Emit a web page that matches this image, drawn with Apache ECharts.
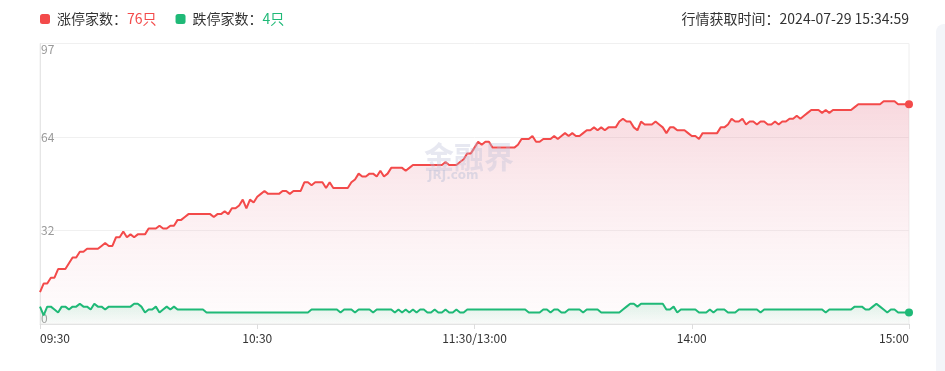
<!DOCTYPE html>
<html>
<head>
<meta charset="utf-8">
<script src="https://cdn.jsdelivr.net/npm/echarts@6/dist/echarts.min.js"></script>
<style>
html,body{margin:0;padding:0;background:#fff;}
#chart{width:945px;height:371px;}
</style>
</head>
<body>
<div id="chart"></div>
<script>
// 涨停家数 (limit-up count) per minute, 09:30 .. 11:30, 13:01 .. 15:00
const riseCounts = [
  11,14,14,16,16,19,19,19,21,23,
  23,25,25,26,26,26,26,27,28,27,
  27,30,30,32,30,31,30,31,31,31,
  33,33,33,34,33,33,34,34,36,36,
  37,38,38,38,38,38,38,38,37,38,
  38,39,38,40,40,41,43,40,43,42,
  44,45,46,45,45,45,45,46,46,45,
  46,46,46,49,49,48,49,49,49,47,
  49,47,47,47,47,47,49,50,52,51,
  51,52,52,51,53,51,52,54,54,54,
  54,53,54,55,55,55,55,55,55,55,
  55,55,56,55,55,55,56,57,59,59,
  61,63,62,63,63,61,61,61,61,61,
  61,61,62,64,64,64,65,63,63,64,
  64,64,65,64,65,66,65,66,65,65,
  66,67,67,68,67,68,67,68,68,68,
  70,71,70,70,68,67,70,69,69,69,
  70,69,68,66,68,68,67,67,67,66,
  65,65,64,66,66,66,66,66,68,68,
  69,71,70,70,71,69,70,70,69,70,
  70,69,69,70,69,70,70,71,71,72,
  71,72,73,74,74,74,73,74,73,74,
  74,74,74,74,74,75,76,76,76,76,
  76,76,76,77,77,77,77,76,76,76,
  76
];
// 跌停家数 (limit-down count) per minute
const fallCounts = [
  6,3,6,6,5,4,6,6,5,6,
  6,7,6,6,5,7,6,6,5,6,
  6,6,6,6,6,6,7,7,6,4,
  5,5,6,4,5,6,5,6,5,5,
  5,5,5,5,5,5,4,4,4,4,
  4,4,4,4,4,4,4,4,4,4,
  4,4,4,4,4,4,4,4,4,4,
  4,4,4,4,4,5,5,5,5,5,
  5,5,5,4,5,5,5,4,5,5,
  5,5,4,5,5,5,5,5,4,5,
  4,5,4,5,4,5,5,4,4,5,
  4,4,5,4,4,5,4,4,5,5,
  5,5,5,5,5,5,5,5,5,5,
  5,5,5,5,5,4,4,4,4,5,
  5,4,5,5,4,4,5,5,5,5,
  4,5,5,5,5,4,4,4,4,4,
  4,5,6,7,7,6,7,7,7,7,
  7,7,7,5,5,6,4,5,5,5,
  5,5,4,4,4,5,4,5,5,5,
  4,4,4,5,5,5,5,5,5,4,
  5,5,5,5,5,5,5,5,5,5,
  5,5,5,5,5,5,5,4,5,5,
  5,5,5,5,5,6,6,6,5,5,
  6,7,6,5,4,5,5,4,4,4,
  4
];
const tickTimes  = ['09:30','10:30','11:30','14:00','15:00'];
const tickLabels = ['09:30','10:30','11:30/13:00','14:00','15:00'];
const yLabelValues = [0, 32, 64, 97];
const seriesNames = ['涨停家数', '跌停家数'];
const fetchTime = '行情获取时间：2024-07-29 15:34:59';

function fmt(m){ const h=Math.floor(m/60), mm=m%60; return (h<10?'0':'')+h+':'+(mm<10?'0':'')+mm; }
const times = [];
for (let m = 9*60+30; m <= 11*60+30; m++) times.push(fmt(m));
for (let m = 13*60+1; m <= 15*60; m++) times.push(fmt(m));

const RED = '#f34a4a', GREEN = '#1fb977';
const lastIdx = times.length - 1;
const riseLast = riseCounts[riseCounts.length-1];
const fallLast = fallCounts[fallCounts.length-1];
const yMax = yLabelValues[yLabelValues.length-1];

const chart = echarts.init(document.getElementById('chart'), null, {renderer:'canvas'});
const FONT = '"Noto Sans CJK SC", "Noto Sans", sans-serif';

chart.setOption({
  animation:false,
  textStyle:{fontFamily:FONT},
  title:{
    text: fetchTime, right: 36, top: 12, padding: 0,
    textStyle:{fontSize:14, fontWeight:'normal', color:'#333', fontFamily:FONT}
  },
  legend:{
    left: 40, top: 12, padding: 0, itemWidth: 10, itemHeight: 10, itemGap: 19,
    icon: 'roundRect',
    data: seriesNames,
    formatter: function(name){
      return name === seriesNames[0] ? name + '：{r|' + riseLast + '只}' : name + '：{g|' + fallLast + '只}';
    },
    textStyle:{
      fontSize:14, color:'#333', fontFamily:FONT, padding:[0,0,0,2],
      rich:{ r:{color:RED, fontSize:14, fontFamily:FONT}, g:{color:GREEN, fontSize:14, fontFamily:FONT} }
    }
  },
  grid:{left:40, right:36, top:43.5, bottom:47, show:true, borderColor:'#eeeeee', borderWidth:1},
  xAxis:{
    type:'category', data: times, boundaryGap:false,
    axisLine:{lineStyle:{color:'#e3e3e3'}},
    axisTick:{show:true, length:5, lineStyle:{color:'#dddddd'},
      interval: function(i, v){ return tickTimes.indexOf(v) >= 0; }},
    axisLabel:{
      color:'#333', fontSize:12, margin:8, fontFamily:FONT,
      interval: function(i, v){ return tickTimes.indexOf(v) >= 0; },
      formatter: function(v){ const k = tickTimes.indexOf(v); return k>=0 ? tickLabels[k] : ''; },
      alignMinLabel:'left', alignMaxLabel:'right'
    },
    splitLine:{show:false}
  },
  yAxis:{
    type:'value', min:0, max:yMax, interval: yMax/3,
    axisLine:{show:true, lineStyle:{color:'#e6e6e6'}},
    axisTick:{show:false},
    splitLine:{lineStyle:{color:'#f0f0f0'}},
    axisLabel:{
      inside:true, margin:1, color:'#999', fontSize:12, fontFamily:FONT,
      formatter: function(v){ return String(Math.floor(v + 1e-6)); },
      verticalAlignMinLabel:'bottom', verticalAlignMaxLabel:'top'
    }
  },
  series:[
    {
      name: seriesNames[0], type:'line', data: riseCounts, z: 2,
      showSymbol:true, showAllSymbol:true, symbol:'circle',
      symbolSize: function(v, p){ return p.dataIndex === lastIdx ? 8 : 0; },
      itemStyle:{color:RED},
      lineStyle:{color:RED, width:2},
      areaStyle:{color: new echarts.graphic.LinearGradient(0,0,0,1,[
        {offset:0, color:'rgba(228,110,132,0.38)'},
        {offset:1, color:'rgba(250,225,230,0.15)'}
      ])},
      emphasis:{disabled:true}
    },
    {
      name: seriesNames[1], type:'line', data: fallCounts, z: 3,
      showSymbol:true, showAllSymbol:true, symbol:'circle',
      symbolSize: function(v, p){ return p.dataIndex === lastIdx ? 8 : 0; },
      itemStyle:{color:GREEN},
      lineStyle:{color:GREEN, width:2},
      areaStyle:{color: new echarts.graphic.LinearGradient(0,0,0,1,[
        {offset:0, color:'rgba(60,190,130,0.22)'},
        {offset:1, color:'rgba(60,190,130,0.04)'}
      ])},
      emphasis:{disabled:true}
    }
  ],
  graphic:[
    {type:'rect', left:936, top:24, shape:{width:30, height:360, r:8}, style:{fill:'#f3f5f9'}, z:0},
    {type:'text', left:424, top:142, z:100,
      style:{text:'金融界', font:'bold 30px "Noto Sans CJK SC"', fill:'rgba(185,190,215,0.35)'}},
    {type:'text', left:428, top:170, z:100,
      style:{text:'JRJ.com', font:'bold 12px "DejaVu Sans"', fill:'rgba(185,190,215,0.45)'}}
  ]
});
</script>
</body>
</html>
